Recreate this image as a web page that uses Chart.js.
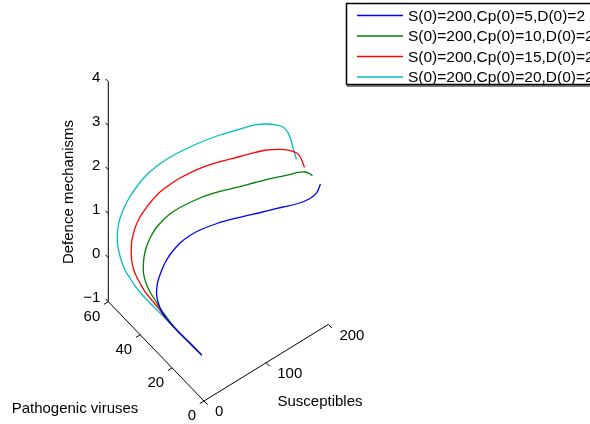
<!DOCTYPE html>
<html>
<head>
<meta charset="utf-8">
<script src="https://cdn.jsdelivr.net/npm/chart.js@4.4.0/dist/chart.umd.min.js"></script>
<style>
  html, body { margin: 0; padding: 0; background: #fff; }
  #wrap { width: 590px; height: 424px; }
</style>
</head>
<body>
<div id="wrap"><canvas id="chart" width="590" height="424"></canvas></div>
<script>
// Trajectories (S, Cp, D)
const seriesLabels = [
   "S(0)=200,Cp(0)=5,D(0)=2",
   "S(0)=200,Cp(0)=10,D(0)=2",
   "S(0)=200,Cp(0)=15,D(0)=2",
   "S(0)=200,Cp(0)=20,D(0)=2",
];
const seriesColors = ["#0000ff", "#008000", "#ff0000", "#00bfbf"];

const sBlue = [200, 199, 196, 188, 176, 160, 143, 125, 107, 88, 76, 62, 48, 35, 22, 12, 6, 3, 1.5, 0.7, 0.1, 0.05, 0];
const cpBlue = [5, 6.96, 9.97, 14.36, 19.12, 22.88, 26.9, 30.56, 33.57, 36.83, 38.41, 39.22, 38.78, 37.47, 35.54, 33.83, 32.12, 30.01, 27.54, 24.73, 17.2, 8.8, 1.4];
const dBlue = [2, 1.734, 1.521, 1.312, 1.158, 1.065, 0.971, 0.899, 0.84, 0.735, 0.655, 0.576, 0.51, 0.468, 0.403, 0.305, 0.194, 0.095, 0.019, -0.02, -0.035, -0.02, -0.01];

const sGreen = [200, 199.5, 198, 194, 187, 173, 157, 142, 121, 99, 76, 64, 54, 43, 35, 25, 17, 10, 5, 2.5, 1.3, 0.8, 0.5, 0.3, 0.1, 0.05, 0];
const cpGreen = [10, 11.66, 13.89, 16.72, 20.26, 25.02, 29.25, 32.8, 37.15, 41.12, 44.68, 46.28, 46.58, 46.87, 46.44, 45.17, 43.62, 41.83, 39.88, 37.34, 34.36, 31.03, 27.78, 24.57, 17.2, 8.8, 1.4];
const dGreen = [2, 1.995, 1.959, 1.876, 1.747, 1.614, 1.499, 1.405, 1.311, 1.205, 1.055, 0.952, 0.892, 0.795, 0.721, 0.651, 0.598, 0.499, 0.365, 0.255, 0.173, 0.121, 0.064, 0.028, -0.035, -0.02, -0.01];

const sRed = [200, 199.5, 198.5, 196, 191, 183, 170, 158, 142, 120, 98, 74, 62, 50, 39, 31, 21, 13, 7, 4.5, 3, 2, 1.4, 1, 0.7, 0.5, 0.4, 0.3, 0.2, 0.1, 0.05, 0];
const cpRed = [15, 16.04, 17.22, 18.31, 20.56, 23.72, 26.98, 29.64, 32.8, 36.77, 40.73, 43.91, 45.49, 47.08, 47.81, 48.01, 48.31, 48.33, 47.87, 47.4, 46.5, 44.98, 42.74, 39.89, 37.27, 34.05, 30.88, 27.71, 24.7, 17.2, 8.8, 1.4];
const dRed = [2, 2.092, 2.181, 2.242, 2.257, 2.235, 2.21, 2.158, 2.087, 2.011, 1.904, 1.772, 1.67, 1.544, 1.419, 1.333, 1.182, 1.001, 0.798, 0.61, 0.429, 0.291, 0.198, 0.127, 0.076, 0.056, 0.04, 0.023, -0.02, -0.035, -0.02, -0.01];

const sCyan = [200, 199.5, 199, 197.5, 195.5, 192, 185, 174, 161, 143, 121, 99, 77, 64, 52, 41, 30, 21, 14, 9, 5.5, 3.5, 2.4, 1.7, 1.2, 0.9, 0.7, 0.5, 0.4, 0.3, 0.2, 0.15, 0.1, 0.05, 0];
const cpCyan = [20, 21.06, 21.81, 23.1, 24.2, 25.34, 26.56, 28.55, 30.81, 33.2, 37.15, 41.12, 45.07, 47.53, 49.74, 51.72, 53.08, 54.58, 55.62, 56.49, 56.38, 55.6, 54.23, 52.39, 50.0, 46.75, 43.54, 39.69, 35.89, 32.09, 28.29, 24.51, 17.2, 8.8, 1.4];
const dCyan = [2, 2.108, 2.209, 2.412, 2.524, 2.603, 2.663, 2.707, 2.713, 2.688, 2.595, 2.467, 2.3, 2.167, 2.017, 1.845, 1.651, 1.412, 1.173, 0.91, 0.672, 0.469, 0.326, 0.197, 0.086, 0.029, -0.03, -0.054, -0.058, -0.05, -0.043, -0.037, -0.035, -0.02, -0.01];

const sTicks = [0, 100, 200];
const cpTicks = [0, 20, 40, 60];
const dTicks = [-1, 0, 1, 2, 3, 4];

// Screen position of the box corner (S=0, Cp=0, D=-1) and pixels per unit along each axis
const view = { ox: 204, oy: 401, sx: 0.622, sy: -0.383, cx: -1.595, cy: -1.655, dy: -44 };

function project(s, cp, d) {
   return {
      x: view.ox + s * view.sx + cp * view.cx,
      y: view.oy + s * view.sy + cp * view.cy + (d - dTicks[0]) * view.dy,
   };
}

function makePoints(sArr, cpArr, dArr) {
   return sArr.map((s, i) => project(s, cpArr[i], dArr[i]));
}

const FONT = "15px 'Liberation Sans', Arial, Helvetica, sans-serif";
const LEGEND_FONT = "15.5px 'Liberation Sans', Arial, Helvetica, sans-serif";

const axesPlugin = {
   id: "axes3d",
   afterDatasetsDraw(chart) {
      const ctx = chart.ctx;
      const xs = chart.scales.x;
      const ys = chart.scales.y;
      const px = (p) => ({ x: xs.getPixelForValue(p.x), y: ys.getPixelForValue(p.y) });
      const sMax = sTicks[sTicks.length - 1];
      const cpMax = cpTicks[cpTicks.length - 1];
      const dMin = dTicks[0];
      const dMax = dTicks[dTicks.length - 1];

      ctx.save();
      ctx.strokeStyle = "#000";
      ctx.lineWidth = 1;

      function seg(a, b) {
         ctx.beginPath();
         ctx.moveTo(a.x, a.y);
         ctx.lineTo(b.x, b.y);
         ctx.stroke();
      }

      // axis lines
      seg(px(project(0, 0, dMin)), px(project(sMax, 0, dMin)));
      seg(px(project(0, 0, dMin)), px(project(0, cpMax, dMin)));
      seg(px(project(0, cpMax, dMin)), px(project(0, cpMax, dMax)));

      ctx.fillStyle = "#000";
      ctx.font = FONT;
      ctx.textBaseline = "middle";

      // S ticks: point away along -Cp
      const tl = 5;
      const cpLen = Math.hypot(view.cx, view.cy);
      const sLen = Math.hypot(view.sx, view.sy);
      ctx.textAlign = "left";
      for (const t of sTicks) {
         const p = px(project(t, 0, dMin));
         seg(p, { x: p.x - (view.cx / cpLen) * tl, y: p.y - (view.cy / cpLen) * tl });
         ctx.fillText(String(t), p.x + 11, p.y + 11);
      }

      // Cp ticks: point away along -S
      ctx.textAlign = "right";
      for (const t of cpTicks) {
         const p = px(project(0, t, dMin));
         seg(p, { x: p.x - (view.sx / sLen) * tl, y: p.y - (view.sy / sLen) * tl });
         ctx.fillText(String(t), p.x - 8, p.y + 15);
      }

      // D ticks: along +Cp
      for (const t of dTicks) {
         const p = px(project(0, cpMax, t));
         seg(p, { x: p.x + (view.cx / cpLen) * 4, y: p.y + (view.cy / cpLen) * 4 });
         ctx.fillText(t < 0 ? "\u2212" + Math.abs(t) : String(t), p.x - 8, p.y - 4);
      }

      // axis titles
      ctx.textAlign = "center";
      ctx.fillText("Susceptibles", 320, 402);
      ctx.fillText("Pathogenic viruses", 75, 409);
      ctx.save();
      ctx.translate(69, 192);
      ctx.rotate(-Math.PI / 2);
      ctx.fillText("Defence mechanisms", 0, 0);
      ctx.restore();

      // legend box (runs off the right edge like the original)
      ctx.fillStyle = "#fff";
      ctx.fillRect(346, 3, 260, 82);
      ctx.strokeStyle = "#000";
      ctx.lineWidth = 1.5;
      ctx.strokeRect(346.5, 3.5, 260, 81);
      ctx.lineWidth = 1;
      seg({ x: 347, y: 86 }, { x: 600, y: 86 });
      const rows = [15.5, 36, 56.5, 77];
      ctx.font = LEGEND_FONT;
      ctx.textAlign = "left";
      ctx.fillStyle = "#000";
      seriesLabels.forEach((label, i) => {
         ctx.strokeStyle = seriesColors[i];
         ctx.lineWidth = 1.3;
         seg({ x: 357, y: rows[i] }, { x: 403, y: rows[i] });
         ctx.fillText(label, 408, rows[i] + 1);
      });
      ctx.restore();
   },
};

const sets = [
   [sBlue, cpBlue, dBlue],
   [sGreen, cpGreen, dGreen],
   [sRed, cpRed, dRed],
   [sCyan, cpCyan, dCyan],
];

const datasets = sets.map((arrs, i) => ({
   label: seriesLabels[i],
   data: makePoints(arrs[0], arrs[1], arrs[2]),
   showLine: true,
   borderColor: seriesColors[i],
   backgroundColor: seriesColors[i],
   borderWidth: 1.3,
   pointRadius: 0,
   tension: 0.3,
   fill: false,
   clip: false,
}));

const ctx = document.getElementById("chart").getContext("2d");
new Chart(ctx, {
   type: "scatter",
   data: { datasets: datasets },
   options: {
      responsive: false,
      animation: false,
      layout: { padding: 0 },
      scales: {
         x: { type: "linear", min: 0, max: 590, display: false },
         y: { type: "linear", min: 0, max: 424, reverse: true, display: false },
      },
      plugins: {
         legend: { display: false },
         tooltip: { enabled: false },
      },
   },
   plugins: [axesPlugin],
});
</script>
</body>
</html>
